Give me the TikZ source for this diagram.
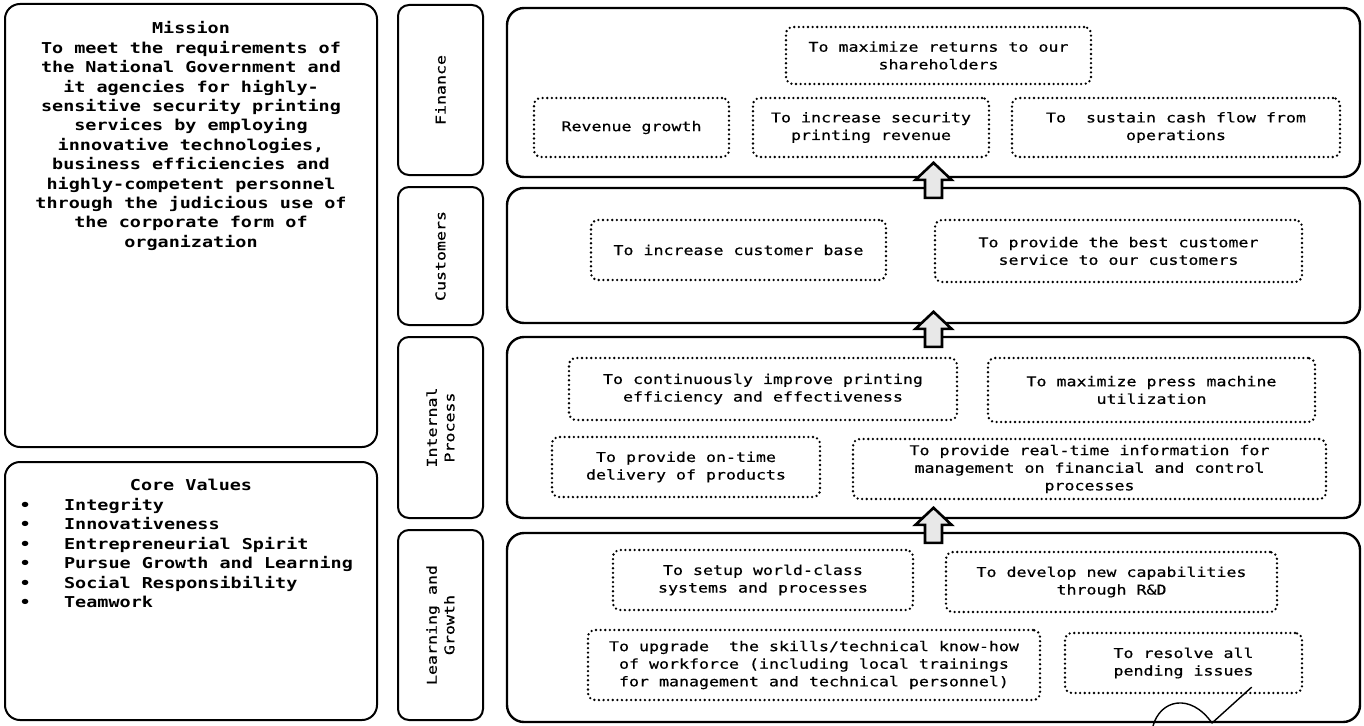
\documentclass[tikz,border=0pt]{standalone}
\usepackage{fontspec}
\newfontfamily\pix[FakeStretch=1.23]{DejaVu Sans Mono}
\newfontfamily\pixm[FakeStretch=1.23,FakeBold=0.5]{DejaVu Sans Mono}
\usetikzlibrary{calc}
\newcommand\bigpix{\pix\bfseries\fontsize{15}{19.4}\selectfont}
\newcommand\smallpix{\pixm\fontsize{13.5}{17.6}\selectfont}
\begin{document}
\begin{tikzpicture}[x=1pt,y=-1pt,
 bigbox/.style={draw, line width=2pt, rounded corners=15pt, inner sep=0pt},
 sidebox/.style={draw, line width=2pt, rounded corners=11pt, inner sep=0pt, minimum width=85pt},
 mainbox/.style={draw, line width=2.4pt, rounded corners=17pt, inner sep=0pt, minimum width=853pt},
 dbox/.style={draw, line width=2.6pt, dash pattern=on 0pt off 4.6pt, line cap=round, rounded corners=7pt, inner sep=0pt, align=center, font=\smallpix},
 sidelabel/.style={rotate=90, align=center, font=\smallpix, inner sep=0pt},
 barrow/.style={draw, line width=2.6pt, fill=black!9, line join=miter},
 checkstroke/.style={draw, line width=1.4pt, line cap=round, line join=round}]
\useasboundingbox (0,0) rectangle (1364,725);

% Mission
\node[bigbox, minimum width=372pt, minimum height=443pt] (mission) at (191,225.5) {};
\node[font=\bigpix, align=center, inner sep=0pt] (mtext) at (191,136) {Mission\\To meet the requirements of\\the National Government and\\it agencies for highly-\\sensitive security printing\\services by employing\\innovative technologies,\\business efficiencies and\\highly-competent personnel\\through the judicious use of\\the corporate form of\\organization};

% Core values
\node[bigbox, minimum width=372pt, minimum height=258pt] (core) at (191,591) {};
\node[font=\bigpix, inner sep=0pt] (ctitle) at (191,485) {Core Values};
\node[font=\bigpix, align=left, anchor=west, inner sep=0pt] (clist) at (19.5,553) {•\ \ \ Integrity\\•\ \ \ Innovativeness\\•\ \ \ Entrepreneurial Spirit\\•\ \ \ Pursue Growth and Learning\\•\ \ \ Social Responsibility\\•\ \ \ Teamwork};

% Side labels
\node[sidebox, minimum height=170pt] (sfin) at (440.5,90) {};
\node[sidelabel] (lfin) at (sfin.center) {Finance};
\node[sidebox, minimum height=138pt] (scus) at (440.5,256) {};
\node[sidelabel] (lcus) at (scus.center) {Customers};
\node[sidebox, minimum height=181pt] (sint) at (440.5,427.5) {};
\node[sidelabel] (lint) at (sint.center) {Internal\\Process};
\node[sidebox, minimum height=190pt] (slrn) at (440.5,625) {};
\node[sidelabel] (llrn) at (slrn.center) {Learning and\\Growth};

% Main perspective boxes
\node[mainbox, minimum height=169pt] (fin) at (933.5,92.5) {};
\node[mainbox, minimum height=135pt] (cus) at (933.5,255.5) {};
\node[mainbox, minimum height=181pt] (int) at (933.5,427.5) {};
\node[mainbox, minimum height=189pt] (lrn) at (933.5,627.5) {};

% Finance objectives
\node[dbox, minimum width=305pt, minimum height=57pt] (fr) at (938.5,55.5) {To maximize returns to our\\shareholders};
\node[dbox, minimum width=195pt, minimum height=59pt] (rg) at (631.5,127.5) {Revenue growth};
\node[dbox, minimum width=236pt, minimum height=59pt] (isr) at (871,127.5) {To increase security\\printing revenue};
\node[dbox, minimum width=328pt, minimum height=59pt] (scf) at (1176,127.5) {To~~sustain cash flow from\\operations};

% Customer objectives
\node[dbox, minimum width=295pt, minimum height=60pt] (icb) at (738.5,250) {To increase customer base};
\node[dbox, minimum width=367pt, minimum height=62pt] (pbs) at (1118.5,251) {To provide the best customer\\service to our customers};

% Internal process objectives
\node[dbox, minimum width=388pt, minimum height=62pt] (cip) at (763,389) {To continuously improve printing\\efficiency and effectiveness};
\node[dbox, minimum width=327pt, minimum height=64pt] (mpm) at (1151.5,390) {To maximize press machine\\utilization};
\node[dbox, minimum width=268pt, minimum height=60pt] (otd) at (686,467) {To provide on-time\\delivery of products};
\node[dbox, minimum width=473pt, minimum height=60pt] (rti) at (1089.5,469) {To provide real-time information for\\management on financial and control\\processes};

% Learning and growth objectives
\node[dbox, minimum width=300pt, minimum height=60pt] (swc) at (763,580) {To setup world-class\\systems and processes};
\node[dbox, minimum width=331pt, minimum height=60pt] (dnc) at (1111.5,582) {To develop new capabilities\\through R\&D};
\node[dbox, minimum width=452pt, minimum height=70pt] (usk) at (814,665) {To upgrade~~the skills/technical know-how\\of workforce (including local trainings\\for management and technical personnel)};
\node[dbox, minimum width=237pt, minimum height=60pt] (rpi) at (1183.5,663) {To resolve all\\pending issues};

% Block arrows between perspectives
\draw[barrow] ($(cus.north)+(-8.5,11)$) -- ++(0,-18) -- ++(-9.5,0) -- ++(18,-17) -- ++(18,17) -- ++(-9.5,0) -- ++(0,18) -- cycle;
\draw[barrow] ($(int.north)+(-8.5,11)$) -- ++(0,-18) -- ++(-9.5,0) -- ++(18,-17) -- ++(18,17) -- ++(-9.5,0) -- ++(0,18) -- cycle;
\draw[barrow] ($(lrn.north)+(-8.5,11)$) -- ++(0,-18) -- ++(-9.5,0) -- ++(18,-17) -- ++(18,17) -- ++(-9.5,0) -- ++(0,18) -- cycle;

% Hand-drawn check mark
\coordinate (ck1) at (1153,726);
\coordinate (ck2) at (1212,723);
\draw[checkstroke] (ck1) .. controls (1160,700) and (1190,692) .. (ck2) -- ($(rpi.south)+(68,-7)$);
\end{tikzpicture}
\end{document}
